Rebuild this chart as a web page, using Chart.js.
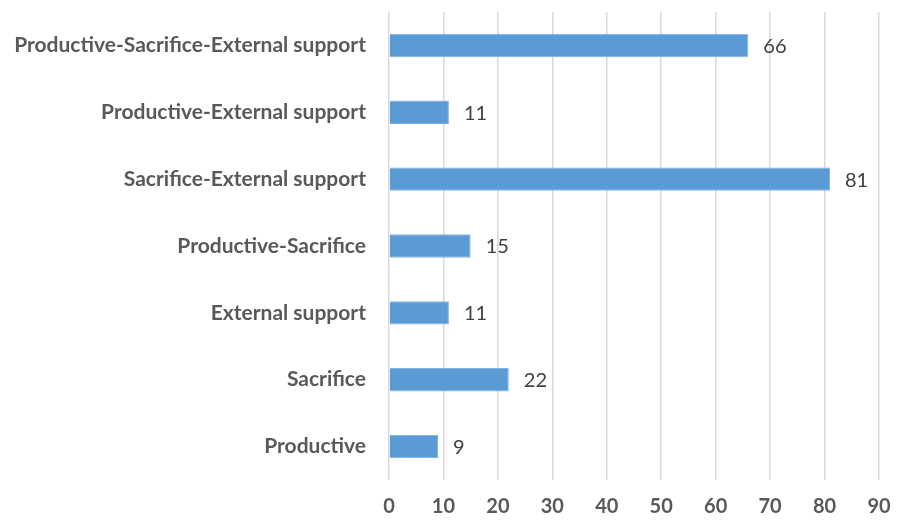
<!DOCTYPE html>
<html>
<head>
<meta charset="utf-8">
<script src="https://cdn.jsdelivr.net/npm/chart.js@4"></script>
<style>
  html, body { margin: 0; padding: 0; background: #ffffff; }
  #wrap { width: 897px; height: 520px; }
</style>
</head>
<body>
<div id="wrap"><canvas id="chart" width="897" height="520"></canvas></div>
<script>
// Categories top to bottom, as shown in the chart
const categories = [
  'Productive-Sacrifice-External support',
  'Productive-External support',
  'Sacrifice-External support',
  'Productive-Sacrifice',
  'External support',
  'Sacrifice',
  'Productive'
];
const counts = [66, 11, 81, 15, 11, 22, 9];
const xTicks = [0, 10, 20, 30, 40, 50, 60, 70, 80, 90];

const FONT = "Lato, 'Open Sans', sans-serif";

// Draw the value to the right of each bar
const valueLabels = {
  id: 'valueLabels',
  afterDatasetsDraw(chart) {
    const ctx = chart.ctx;
    const meta = chart.getDatasetMeta(0);
    ctx.save();
    ctx.font = `20px ${FONT}`;
    ctx.fillStyle = '#404040';
    ctx.textAlign = 'left';
    ctx.textBaseline = 'middle';
    meta.data.forEach((bar, i) => {
      ctx.fillText(String(counts[i]), bar.x + 15, bar.y + 1);
    });
    ctx.restore();
  }
};

new Chart(document.getElementById('chart'), {
  type: 'bar',
  data: {
    labels: categories,
    datasets: [{
      data: counts,
      backgroundColor: '#5b9bd5',
      borderColor: '#7fb2e0',
      borderWidth: 1,
      barPercentage: 0.7,
      categoryPercentage: 0.5,
    }],
  },
  options: {
    indexAxis: 'y',
    responsive: false,
    animation: false,
    layout: { padding: { top: 12, right: 18, left: 0, bottom: 0 } },
    plugins: {
      legend: { display: false },
      tooltip: { enabled: false },
    },
    scales: {
      x: {
        min: 0,
        max: 90,
        afterBuildTicks: (axis) => { axis.ticks = xTicks.map(v => ({ value: v })); },
        afterFit: (axis) => {
          axis.height = 40;
          axis.paddingLeft = 0;
          axis.paddingRight = 0;
        },
        grid: { color: '#d9d9d9', lineWidth: 1.5, drawTicks: false },
        border: { display: false },
        ticks: {
          padding: 15,
          color: '#595959',
          font: { family: FONT, size: 20, weight: 'bold' },
        },
      },
      y: {
        afterFit: (axis) => {
          axis.width = 389;
          axis.paddingTop = 0;
          axis.paddingBottom = 0;
        },
        grid: { display: false, drawTicks: false },
        border: { display: false },
        ticks: {
          padding: 23,
          color: '#595959',
          font: { family: FONT, size: 21, weight: 'bold' },
        },
      },
    },
  },
  plugins: [valueLabels],
});
</script>
</body>
</html>
